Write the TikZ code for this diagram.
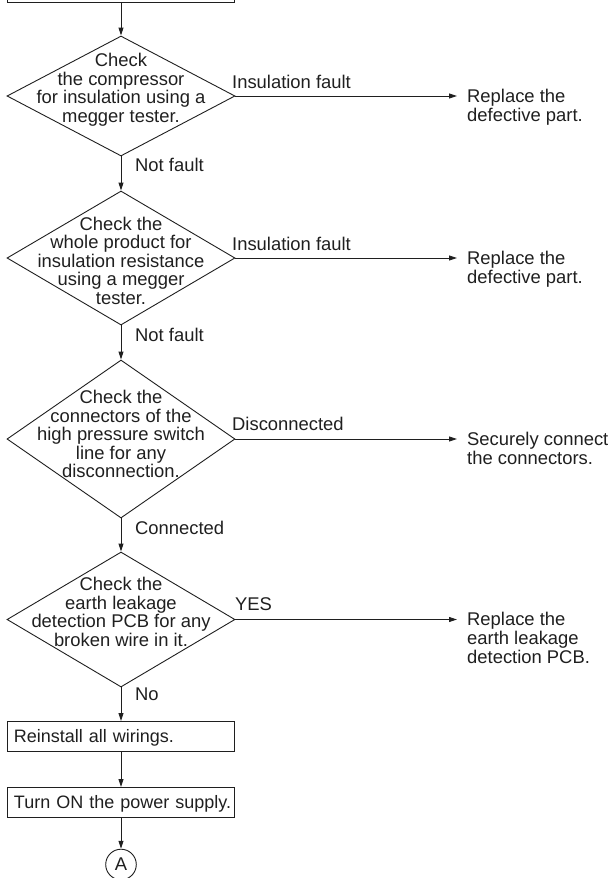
\documentclass[tikz,border=0pt]{standalone}
\usepackage{fontspec}
\setmainfont{Liberation Sans}
\usetikzlibrary{shapes.geometric,arrows.meta}
\begin{document}
\begin{tikzpicture}[x=1pt,y=-1pt,
  ink/.style={draw=black!88, line width=0.9pt},
  every node/.style={text=black!88, font=\fontsize{18.4}{18.5}\selectfont},
  decision/.style={diamond, ink, minimum width=228pt, minimum height=#1, inner sep=0pt},
  qtext/.style={anchor=north, align=center, inner sep=0pt},
  rtext/.style={anchor=north west, align=left, inner sep=0pt, font=\fontsize{18.4}{19}\selectfont},
  lbl/.style={anchor=base west, inner sep=0pt},
  procbox/.style={ink, rectangle, anchor=north west, minimum width=227pt, minimum height=30pt,
    inner xsep=6pt, inner ysep=0pt, text height=13pt, text depth=0pt, text width=214pt, align=left,
    font=\fontsize{18}{18.5}\selectfont},
  flow/.style={ink, -{Triangle[length=8pt,width=5pt]}}
]
\useasboundingbox (0,0) rectangle (613,878);

% cut-off box at top
\node[ink, rectangle, anchor=south west, minimum width=227pt, minimum height=50pt, inner sep=0pt] (top) at (7,3) {};

% decisions
\node[decision=120pt] (d1) at (121,96) {};
\node[qtext] (q1) at (121,53.3) {Check\\the compressor\\for insulation using a\\megger tester.};

\node[decision=134pt] (d2) at (121,258) {};
\node[qtext] (q2) at (121,216.8) {Check the\\whole product for\\insulation resistance\\using a megger\\tester.};

\node[decision=158pt] (d3) at (121,439) {};
\node[qtext] (q3) at (121,390) {Check the\\connectors of the\\high pressure switch\\line for any\\disconnection.};

\node[decision=135pt] (d4) at (121,619.5) {};
\node[qtext] (q4) at (121,577) {Check the\\earth leakage\\detection PCB for any\\broken wire in it.};

% process boxes
\node[procbox] (b1) at (7,721) {\mbox{Reinstall all wirings.}};
\node[procbox] (b2) at (7,787) {\mbox{Turn ON the power supply.}};

% connector A
\node[ink, circle, minimum size=30.6pt, inner sep=0pt] (ca) at (121,864.5) {A};

% right side results
\coordinate (e1) at (457,96);
\coordinate (e2) at (457,258);
\coordinate (e3) at (457,439);
\coordinate (e4) at (457,619.5);
\node[rtext] (r1) at (467,88.8) {Replace the\\defective part.};
\node[rtext] (r2) at (467,250.8) {Replace the\\defective part.};
\node[rtext] (r3) at (467,431.8) {Securely connect\\the connectors.};
\node[rtext] (r4) at (467,612.3) {Replace the\\earth leakage\\detection PCB.};

% labels
\node[lbl] (l1) at (232,88) {Insulation fault};
\node[lbl] (l2) at (232,250) {Insulation fault};
\node[lbl] (l3) at (232,430) {Disconnected};
\node[lbl] (l4) at (235,610) {YES};
\node[lbl] (n1) at (135,171.5) {Not fault};
\node[lbl] (n2) at (135,341) {Not fault};
\node[lbl] (n3) at (135,534) {Connected};
\node[lbl] (n4) at (135,700) {No};

% connectors
\draw[flow] (top.south -| d1.north) -- (d1.north);
\draw[flow] (d1.south) -- (d2.north);
\draw[flow] (d2.south) -- (d3.north);
\draw[flow] (d3.south) -- (d4.north);
\draw[flow] (d4.south) -- (b1.north -| d4.south);
\draw[flow] (b1.south -| d4.south) -- (b2.north -| d4.south);
\draw[flow] (b2.south -| d4.south) -- (ca.north);

\draw[flow] (d1.east) -- (e1);
\draw[flow] (d2.east) -- (e2);
\draw[flow] (d3.east) -- (e3);
\draw[flow] (d4.east) -- (e4);
\end{tikzpicture}
\end{document}
